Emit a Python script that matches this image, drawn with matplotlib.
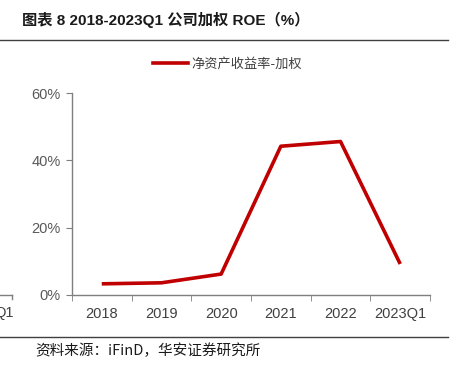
import matplotlib.pyplot as plt
from matplotlib.lines import Line2D
import numpy as np

plt.rcParams['font.family'] = ['Liberation Sans', 'Noto Sans CJK SC', 'DejaVu Sans']

# ------------------------------------------------------
# data
# ------------------------------------------------------
years = ["2018", "2019", "2020", "2021", "2022", "2023Q1"]
roe = [3.3, 3.6, 6.2, 44.2, 45.6, 9.2]
series_name = "净资产收益率-加权"

title = "图表 8 2018-2023Q1 公司加权 ROE（%）"
source = "资料来源：iFinD，华安证券研究所"

red = "#C00000"
grey = "#7f7f7f"

fig = plt.figure(figsize=(4.58, 3.65), dpi=100)
ax = fig.add_axes([0.157, 0.192, 0.782, 0.553])

x = np.arange(len(years))
ax.plot(x, roe, color=red, linewidth=2.6, solid_capstyle="butt")

ax.set_xlim(-0.5, len(years) - 0.5)
ax.set_ylim(0, 60)
ax.set_yticks([0, 20, 40, 60])
ax.set_yticklabels([f"{v}%" for v in [0, 20, 40, 60]])
ax.set_xticks(x)
ax.set_xticklabels(years)
ax.set_xticks(np.arange(-0.5, len(years)), minor=True)
ax.tick_params(axis="x", which="major", length=0, pad=9,
               labelsize=10.5, labelcolor="#404040")
ax.tick_params(axis="x", which="minor", length=4, color=grey, direction="out")
ax.tick_params(axis="y", length=4, color=grey, labelsize=10.5,
               labelcolor="#595959", pad=4)

for s in ["top", "right"]:
    ax.spines[s].set_visible(False)
for s in ["left", "bottom"]:
    ax.spines[s].set_color(grey)
    ax.spines[s].set_linewidth(1.0)

# legend
leg = ax.legend([Line2D([], [], color=red, linewidth=2.6)], [series_name],
                loc="lower center", bbox_to_anchor=(0.435, 1.05), frameon=False,
                handlelength=2.6, handletextpad=0.3,
                prop={"family": ["Noto Sans CJK SC"], "size": 9.5})
for t in leg.get_texts():
    t.set_color("#404040")

# header / footer
fig.text(0.048, 0.945, title, fontsize=11, fontweight="bold",
         family=["Liberation Sans", "Noto Sans CJK SC"], va="center", color="#1a1a1a")
fig.add_artist(Line2D([0, 0.978], [0.89, 0.89], color="#404040", linewidth=1.0))
fig.add_artist(Line2D([0, 0.978], [0.077, 0.077], color="#404040", linewidth=1.0))
fig.text(0.076, 0.04, source, fontsize=10.5,
         family=["Noto Sans CJK SC", "DejaVu Sans"], va="center", color="#1a1a1a")

# fragment of neighbouring chart on the left edge
fig.add_artist(Line2D([0, 0.026], [0.192, 0.192], color=grey, linewidth=1.0))
fig.add_artist(Line2D([0.026, 0.026], [0.192, 0.181], color=grey, linewidth=1.0))
fig.text(-0.012, 0.142, "Q1", fontsize=10.5, color="#404040", va="center")

fig.savefig("out.png", dpi=100)
